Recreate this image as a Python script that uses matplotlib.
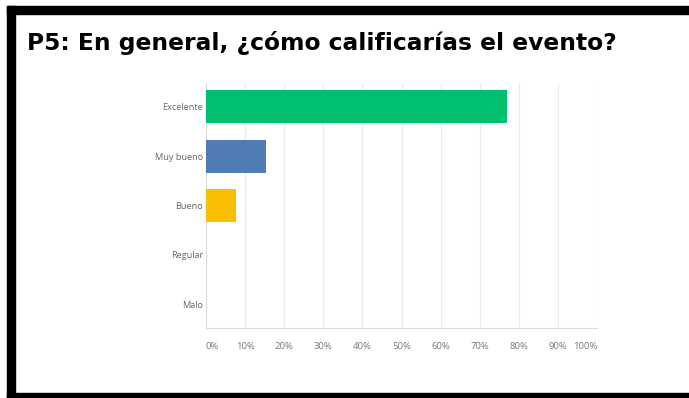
import matplotlib.pyplot as plt
from matplotlib.patches import Rectangle

# Survey answers and share of responses (%)
categories = ['Excelente', 'Muy bueno', 'Bueno', 'Regular', 'Malo']
values = [76.92, 15.38, 7.69, 0, 0]
colors = ['#00BF6F', '#507CB6', '#F9BE00', '#6BC8CD', '#D25F90']
tick_values = [0, 10, 20, 30, 40, 50, 60, 70, 80, 90, 100]
tick_labels = ['0%', '10%', '20%', '30%', '40%', '50%', '60%', '70%', '80%', '90%', '100%']

fig = plt.figure(figsize=(6.89, 3.98), dpi=100)
fig.patch.set_facecolor('white')

# black frame on top, left and bottom
fig.patches.append(Rectangle((7/689, 1 - 14/398), 1 - 7/689, 8/398,
                             transform=fig.transFigure, color='black'))
fig.patches.append(Rectangle((7/689, 0), 8/689, 1 - 6/398,
                             transform=fig.transFigure, color='black'))
fig.patches.append(Rectangle((7/689, 0), 1 - 7/689, 5/398,
                             transform=fig.transFigure, color='black'))

fig.text(27/689, 1 - 50/398, 'P5: En general, ¿cómo calificarías el evento?',
         fontsize=16.8, fontweight='bold', family='DejaVu Sans',
         va='baseline', ha='left', color='#000000')

ax = fig.add_axes([206/689, 70/398, 391/689, 245/398])
ax.barh(range(len(categories)), values, height=0.67, color=colors, zorder=3)
ax.set_xlim(0, 100)
ax.set_ylim(4.48, -0.48)

ax.set_yticks(range(len(categories)))
ax.set_yticklabels(categories, family='Open Sans', fontsize=6.6, color='#666666')
ax.set_xticks(tick_values)
ax.set_xticklabels(tick_labels, family='Open Sans', fontsize=6.8, color='#777777')
labels = ax.get_xticklabels()
labels[0].set_horizontalalignment('left')
labels[-1].set_horizontalalignment('right')
ax.tick_params(axis='both', length=0)
ax.tick_params(axis='x', pad=10)
ax.tick_params(axis='y', pad=2)

ax.grid(axis='x', color='#ebebeb', linewidth=0.8, zorder=0)
for side in ['top', 'right']:
    ax.spines[side].set_visible(False)
ax.spines['left'].set_color('#d9d9d9')
ax.spines['bottom'].set_color('#d9d9d9')
ax.spines['left'].set_linewidth(0.8)
ax.spines['bottom'].set_linewidth(0.8)

fig.savefig('out.png', dpi=100)
